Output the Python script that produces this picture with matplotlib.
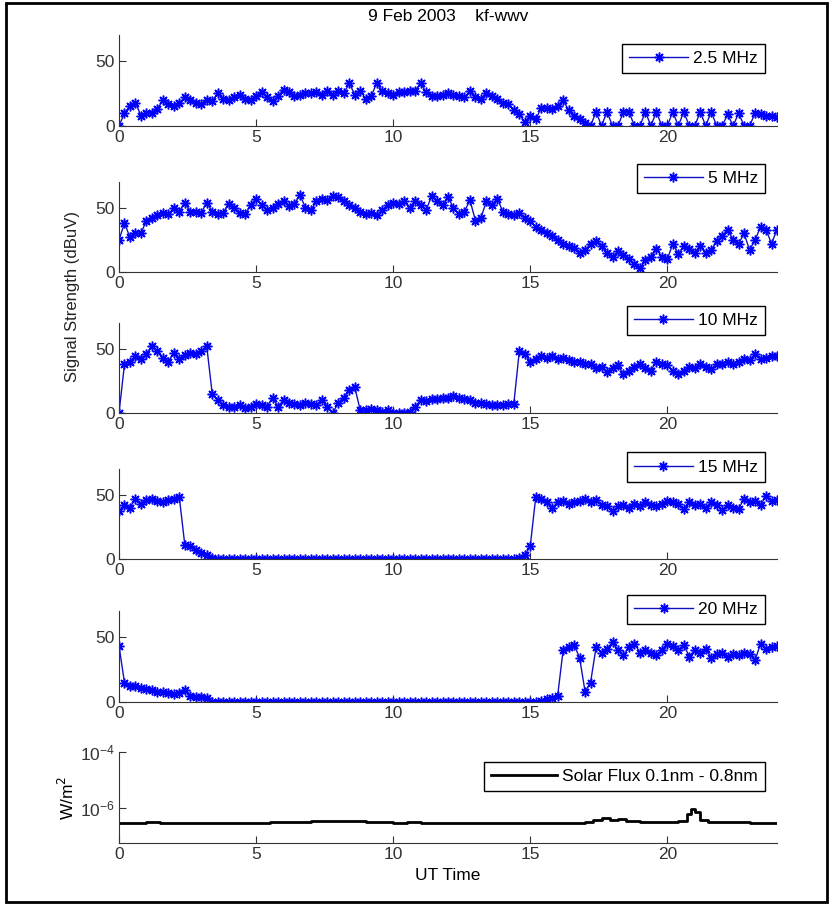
import matplotlib
matplotlib.use('Agg')
import matplotlib.pyplot as plt
import numpy as np
from matplotlib.patches import Rectangle

plt.rcParams['font.family'] = ['Liberation Sans Narrow', 'Liberation Sans', 'DejaVu Sans']

# UT time of the receiver samples (hours)
t = np.arange(0, 24.01, 0.2)

mhz_2_5 = [0, 10, 15, 18, 8, 10, 10, 13, 20, 17, 15, 18, 22, 20, 18, 17, 20, 19, 25, 21,
           20, 22, 24, 21, 20, 23, 26, 22, 19, 23, 28, 26, 23, 24, 25, 25, 26, 24, 27, 24,
           27, 25, 33, 24, 27, 21, 23, 33, 27, 25, 24, 26, 26, 27, 27, 33, 26, 23, 23, 24,
           25, 24, 23, 22, 27, 22, 21, 25, 23, 21, 18, 17, 12, 9, 3, 8, 5, 14, 14, 13,
           15, 20, 12, 8, 5, 2, 0, 11, 0, 11, 0, 0, 11, 11, 0, 0, 11, 0, 11, 0,
           0, 11, 0, 11, 0, 0, 11, 0, 11, 0, 0, 9, 0, 10, 0, 0, 10, 9, 8, 8, 7]

mhz_5 = [25, 38, 27, 30, 30, 40, 42, 44, 46, 45, 50, 47, 54, 47, 47, 46, 54, 47, 45, 46,
         53, 50, 46, 45, 52, 57, 52, 48, 50, 53, 55, 51, 53, 60, 50, 48, 55, 57, 56, 59,
         58, 55, 52, 50, 47, 45, 46, 44, 48, 52, 54, 53, 55, 50, 55, 52, 48, 59, 55, 52,
         58, 50, 45, 47, 56, 40, 42, 55, 52, 57, 47, 45, 44, 46, 42, 40, 35, 33, 30, 28,
         25, 22, 20, 19, 15, 17, 22, 24, 20, 15, 12, 16, 13, 10, 6, 3, 9, 12, 18, 12,
         10, 22, 14, 20, 18, 15, 20, 15, 17, 24, 28, 33, 25, 22, 30, 17, 25, 35, 33, 22, 33]

mhz_10 = [0, 38, 40, 44, 42, 46, 52, 48, 43, 40, 47, 42, 45, 47, 46, 48, 52, 15, 10, 6,
          5, 5, 6, 4, 5, 7, 6, 5, 12, 5, 10, 8, 7, 6, 8, 7, 6, 10, 5, 0,
          8, 12, 18, 20, 2, 2, 3, 2, 1, 2, 0, 0, 0, 1, 5, 10, 9, 11, 11, 12,
          12, 13, 12, 11, 10, 8, 8, 7, 6, 6, 6, 7, 7, 48, 46, 40, 42, 44, 43, 44,
          42, 43, 41, 40, 40, 38, 38, 35, 36, 32, 35, 37, 30, 33, 36, 38, 35, 33, 40, 38,
          37, 33, 30, 33, 36, 35, 38, 36, 34, 38, 38, 40, 38, 40, 42, 41, 46, 42, 43, 44, 44]

mhz_15 = [37, 42, 40, 47, 43, 46, 47, 45, 44, 46, 47, 48, 11, 10, 7, 5, 3, 1, 0, 0,
          0, 0, 0, 0, 0, 0, 0, 0, 0, 0, 0, 0, 0, 0, 0, 0, 0, 0, 0, 0,
          0, 0, 0, 0, 0, 0, 0, 0, 0, 0, 0, 0, 0, 0, 0, 0, 0, 0, 0, 0,
          0, 0, 0, 0, 0, 0, 0, 0, 0, 0, 0, 0, 0, 1, 3, 10, 48, 47, 44, 40,
          44, 45, 43, 44, 45, 47, 44, 46, 42, 41, 37, 41, 42, 40, 43, 41, 44, 42, 41, 43,
          45, 44, 43, 39, 44, 42, 43, 40, 44, 42, 38, 42, 40, 39, 47, 44, 45, 42, 49, 45, 46]

mhz_20 = [43, 15, 12, 12, 11, 10, 9, 8, 8, 7, 6, 7, 9, 5, 4, 4, 3, 0, 0, 0,
          0, 0, 0, 0, 0, 0, 0, 0, 0, 0, 0, 0, 0, 0, 0, 0, 0, 0, 0, 0,
          0, 0, 0, 0, 0, 0, 0, 0, 0, 0, 0, 0, 0, 0, 0, 0, 0, 0, 0, 0,
          0, 0, 0, 0, 0, 0, 0, 0, 0, 0, 0, 0, 0, 0, 0, 0, 0, 1, 2, 3,
          5, 40, 42, 44, 34, 8, 15, 42, 38, 41, 46, 40, 36, 42, 45, 38, 40, 38, 36, 40,
          45, 43, 40, 44, 35, 40, 38, 41, 34, 37, 38, 35, 37, 36, 38, 37, 32, 45, 41, 42, 43]

# GOES X-ray flux 0.1-0.8 nm (W/m^2)
flux_t = [0, 0.5, 1.0, 1.5, 2.0, 2.5, 3.0, 3.5, 4.0, 4.5, 5.0, 5.5, 6.0, 6.5, 7.0, 7.5,
          8.0, 8.5, 9.0, 9.5, 10.0, 10.5, 11.0, 11.5, 12.0, 12.5, 13.0, 13.5, 14.0, 14.5,
          15.0, 15.5, 16.0, 16.5, 17.0, 17.3, 17.6, 17.9, 18.2, 18.5, 19.0, 19.5, 20.0,
          20.4, 20.7, 20.85, 21.0, 21.2, 21.5, 22.0, 22.5, 23.0, 23.5, 24.0]
flux = [2.9e-7, 2.9e-7, 3.1e-7, 3.0e-7, 2.9e-7, 2.9e-7, 3.0e-7, 3.0e-7, 3.0e-7, 3.0e-7,
        3.0e-7, 3.1e-7, 3.2e-7, 3.2e-7, 3.3e-7, 3.4e-7, 3.5e-7, 3.4e-7, 3.2e-7, 3.1e-7,
        3.0e-7, 3.1e-7, 3.0e-7, 3.0e-7, 2.9e-7, 2.9e-7, 2.9e-7, 2.9e-7, 3.0e-7, 2.8e-7,
        2.9e-7, 2.9e-7, 3.0e-7, 3.0e-7, 3.2e-7, 3.6e-7, 4.3e-7, 3.8e-7, 3.9e-7, 3.4e-7,
        3.2e-7, 3.2e-7, 3.2e-7, 3.3e-7, 6.0e-7, 9.5e-7, 7.0e-7, 3.6e-7, 3.2e-7, 3.1e-7,
        3.2e-7, 3.0e-7, 2.9e-7, 2.9e-7]

labels = ['2.5 MHz', '5 MHz', '10 MHz', '15 MHz', '20 MHz']
series = [mhz_2_5, mhz_5, mhz_10, mhz_15, mhz_20]

W, H = 830, 905
fig = plt.figure(figsize=(W / 100, H / 100), dpi=100)
fig.patch.set_facecolor('white')
fig.add_artist(Rectangle((6 / W, 3 / H), 821 / W, 899 / H, transform=fig.transFigure,
                         fill=False, edgecolor='black', linewidth=2))

rows = [(35, 126), (182, 272), (323, 413), (469, 559), (611, 702), (752, 843)]
left, width = 119 / W, 658 / W
axc = '#333333'

def style(ax):
    for s in ['top', 'right']:
        ax.spines[s].set_visible(False)
    for s in ['left', 'bottom']:
        ax.spines[s].set_color(axc)
    ax.tick_params(direction='in', length=5, colors=axc, labelsize=12.5, pad=3)
    ax.set_xlim(0, 24)
    ax.set_xticks([0, 5, 10, 15, 20])

legend_y = [1.0, 1.30, 1.29, 1.28, 1.27]
for i, (lab, vals) in enumerate(zip(labels, series)):
    top, bot = rows[i]
    ax = fig.add_axes([left, 1 - bot / H, width, (bot - top) / H])
    ax.plot(t, vals, color='#1010c0', linewidth=1, marker=(8, 2, 0), markersize=7,
            markeredgewidth=1.1, markeredgecolor='blue', label=lab)
    ax.set_ylim(0, 70)
    ax.set_yticks([0, 50])
    style(ax)
    leg = ax.legend(loc='upper right', bbox_to_anchor=(0.995, legend_y[i]), fontsize=12.5,
                    fancybox=False, framealpha=1, edgecolor='black', borderpad=0.4,
                    handlelength=3.4, handletextpad=0.3)
    leg.get_frame().set_linewidth(1)
    if i == 0:
        ax.set_title('9 Feb 2003    kf-wwv', fontsize=12.5, pad=10)

top, bot = rows[5]
ax = fig.add_axes([left, 1 - bot / H, width, (bot - top) / H])
ax.plot(flux_t, flux, color='black', linewidth=2, drawstyle='steps-post',
        label='Solar Flux 0.1nm - 0.8nm')
ax.set_yscale('log')
ax.set_ylim(5.6e-8, 1e-4)
ax.set_yticks([1e-6, 1e-4])
ax.minorticks_off()
style(ax)
ax.set_xlabel('UT Time', fontsize=12.5)
ax.set_ylabel('W/m$^2$', fontsize=12.5, family='Liberation Sans', labelpad=2)
leg = ax.legend(loc='upper right', bbox_to_anchor=(0.995, 0.99), fontsize=12.5,
                fancybox=False, framealpha=1, edgecolor='black', borderpad=0.4,
                handlelength=3.8, handletextpad=0.3)
leg.get_frame().set_linewidth(1)

fig.text(72 / W, 1 - 297 / H, 'Signal Strength (dBuV)', rotation=90, ha='center',
         va='center', fontsize=12, family='Liberation Sans', color='#222222')

fig.savefig('out.png', dpi=100)
